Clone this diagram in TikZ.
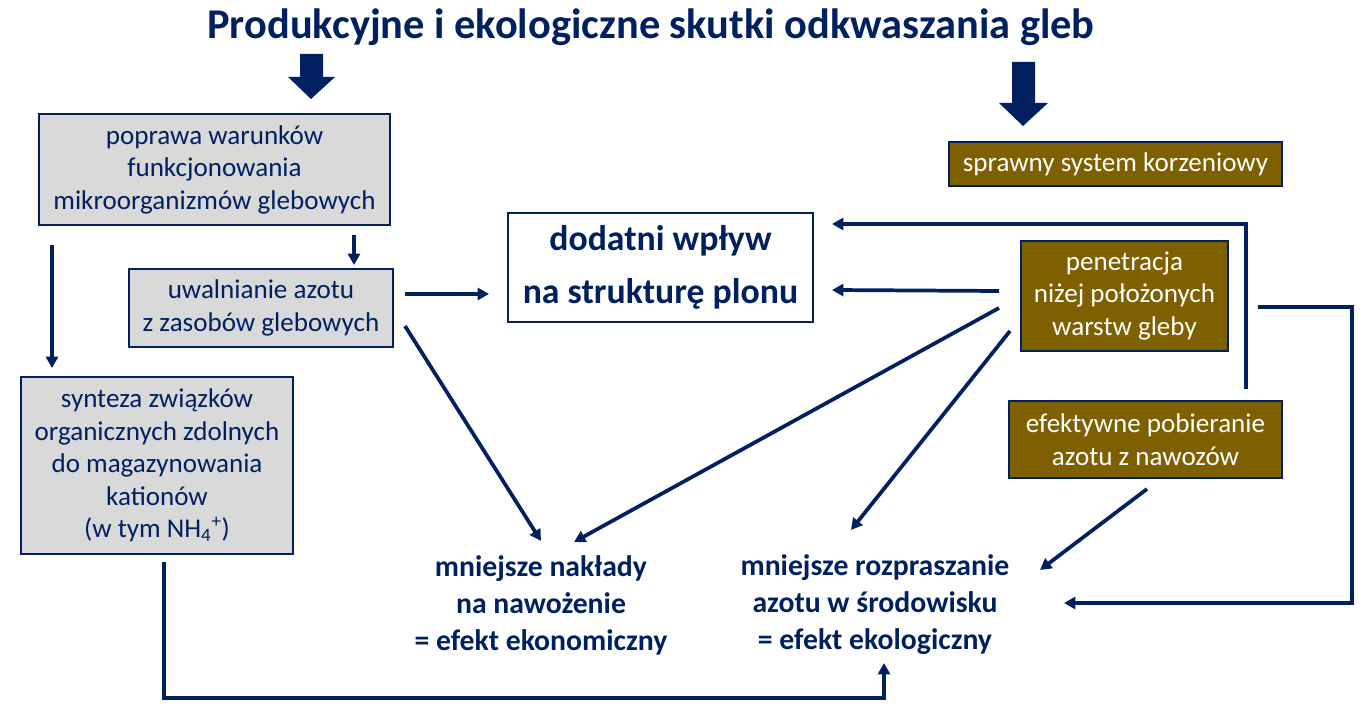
\documentclass[tikz,border=0pt]{standalone}
\usepackage{fontspec}
\setmainfont{Carlito}
\usetikzlibrary{arrows.meta}
\definecolor{navy}{RGB}{0,32,96}
\definecolor{boxgray}{RGB}{217,217,217}
\definecolor{soilbrown}{RGB}{127,96,0}
\begin{document}
\begin{tikzpicture}[x=0.75pt,y=-0.75pt,
  box/.style={draw=navy, line width=1.5pt, inner sep=0pt, align=center, text=navy,
    font=\fontsize{20.3}{24.4}\selectfont},
  graybox/.style={box, fill=boxgray},
  brownbox/.style={box, fill=soilbrown, text=white},
  effect/.style={align=center, text=navy, inner sep=0pt, font=\fontsize{22.3}{27.75}\selectfont\bfseries},
  conn/.style={draw=navy, line width=2.8pt},
  arr/.style={conn, -{Triangle[length=8.5pt,width=9pt]}},
  blockarrow/.style={fill=navy}]
\useasboundingbox (0,0) rectangle (1367,712);

% title
\node[text=navy, inner sep=0pt, font=\fontsize{31.8}{36}\selectfont\bfseries] (title) at (651,27)
  {Produkcyjne i ekologiczne skutki odkwaszania gleb};

% block arrows
\fill[blockarrow] (300,54) -- (323,54) -- (323,77) -- (335,77) -- (311,99) -- (288,77) -- (300,77) -- cycle;
\fill[blockarrow] (1012,62) -- (1035,62) -- (1035,103) -- (1048,103) -- (1023,126) -- (999,103) -- (1012,103) -- cycle;

% boxes
\node[graybox, minimum width=263.25pt, minimum height=83.25pt] (poprawa) at (214.5,169.5)
  {poprawa warunków\\funkcjonowania\\mikroorganizmów glebowych};
\node[graybox, minimum width=198pt, minimum height=58.5pt] (uwal) at (261,308)
  {uwalnianie azotu\\z zasobów glebowych};
\node[graybox, minimum width=204pt, minimum height=132.75pt] (synt) at (157,465.5)
  {synteza związków\\organicznych zdolnych\\do magazynowania\\kationów\\(w tym NH\textsubscript{4}\textsuperscript{+})};
\node[box, fill=white, minimum width=228.75pt, minimum height=81.75pt,
  font=\fontsize{26.8}{39.75}\selectfont\bfseries] (dod) at (660.5,267.5)
  {dodatni wpływ\\na strukturę plonu};
\node[brownbox, minimum width=249.75pt, minimum height=33pt] (spraw) at (1115.5,164)
  {sprawny system korzeniowy};
\node[brownbox, minimum width=155.25pt, minimum height=82.5pt] (pen) at (1124.5,296)
  {penetracja\\niżej położonych\\warstw gleby};
\node[brownbox, minimum width=204.75pt, minimum height=57.75pt] (eff) at (1145.5,439.5)
  {efektywne pobieranie\\azotu z nawozów};

% effect texts
\node[effect] (ekon) at (541,605) {mniejsze nakłady\\na nawożenie\\= efekt ekonomiczny};
\node[effect] (ekol) at (875,605) {mniejsze rozpraszanie\\azotu w środowisku\\= efekt ekologiczny};

% connectors
\draw[arr] ([shift={(-37,9)}]poprawa.south east) -- ([shift={(-40,-3)}]uwal.north east);
\draw[arr] ([shift={(14,19)}]poprawa.south west) -- ([shift={(32,-8)}]synt.north west);
\draw[arr] ([shift={(11,-14)}]uwal.east) -- ([shift={(-18,26.5)}]dod.west);
\draw[arr] ([shift={(11,-22)}]uwal.south east) -- ([shift={(0,-64)}]ekon.center);
\draw[arr] ([shift={(-21,12)}]pen.west) -- ([shift={(33,-63)}]ekon.center);
\draw[arr] ([shift={(-21,-5)}]pen.west) -- ([shift={(18,22.5)}]dod.east);
\draw[arr] ([shift={(-37,-11)}]eff.north east) |- ([shift={(18,-43.5)}]dod.east);
\draw[arr] ([shift={(-10,35)}]pen.west) -- ([shift={(-24,-75)}]ekol.center);
\draw[arr] ([shift={(29,11)}]pen.east) -- ++(94,0) |- ([shift={(189,-2)}]ekol.center);
\draw[arr] ([shift={(1.5,10)}]eff.south) -- ([shift={(165,-35)}]ekol.center);
\draw[arr] ([shift={(7,7)}]synt.south) |- ([shift={(9,93)}]ekol.center) -- ([shift={(9,58)}]ekol.center);
\end{tikzpicture}
\end{document}
